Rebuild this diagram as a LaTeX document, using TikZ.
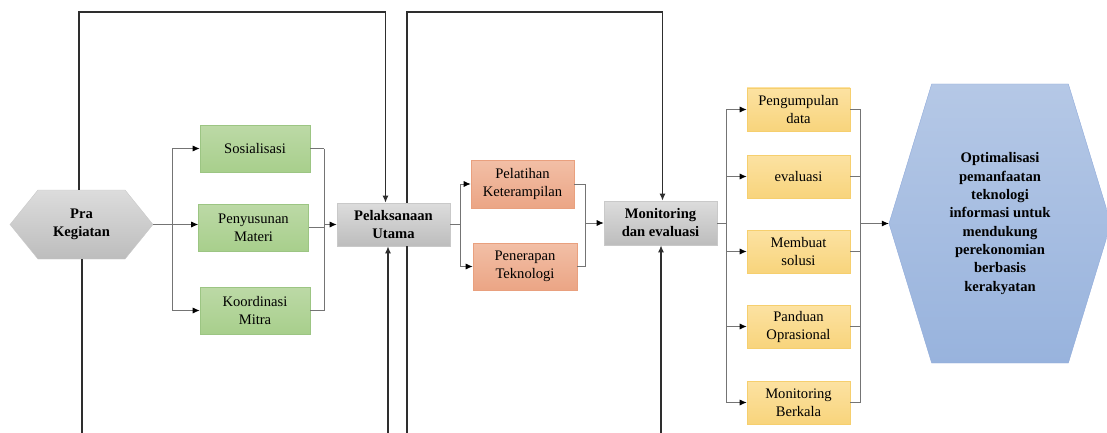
\documentclass[tikz,border=0pt]{standalone}
\usepackage{fontspec}
\setmainfont{Liberation Serif}
\usepackage{tikz}
\usetikzlibrary{calc}
\usetikzlibrary{arrows.meta}
\usetikzlibrary{shapes}
\usetikzlibrary{shapes.symbols}
\usetikzlibrary{positioning}
\tikzset{>={Latex[length=7pt,width=6pt]}}
\definecolor{grayTop}{HTML}{DCDCDC}
\definecolor{grayBot}{HTML}{BDBDBD}
\definecolor{grayLine}{HTML}{C9C9C9}
\definecolor{greenTop}{HTML}{BCD9A6}
\definecolor{greenBot}{HTML}{A8CF8C}
\definecolor{greenLine}{HTML}{9CC583}
\definecolor{orangeTop}{HTML}{F2BFA6}
\definecolor{orangeBot}{HTML}{EBA585}
\definecolor{orangeLine}{HTML}{E9A07E}
\definecolor{yellowTop}{HTML}{FCE2A2}
\definecolor{yellowBot}{HTML}{F8D47C}
\definecolor{yellowLine}{HTML}{F6CF6E}
\definecolor{blueTop}{HTML}{B5C8E6}
\definecolor{blueBot}{HTML}{98B3DD}
\definecolor{blueLine}{HTML}{8FAADA}
\definecolor{linkGray}{HTML}{747474}
\definecolor{frameGray}{HTML}{2E2E2E}
\tikzset{kotak/.style = {rectangle, draw, line width=0.6pt, align=center, inner sep=0pt,
  font=\fontsize{14.6}{18}\selectfont}}
\tikzset{graybox/.style = {kotak, top color=grayTop, bottom color=grayBot, draw=grayLine,
  font=\fontsize{14.6}{18}\selectfont\bfseries}}
\tikzset{greenbox/.style = {kotak, top color=greenTop, bottom color=greenBot, draw=greenLine}}
\tikzset{orangebox/.style = {kotak, top color=orangeTop, bottom color=orangeBot, draw=orangeLine}}
\tikzset{yellowbox/.style = {kotak, top color=yellowTop, bottom color=yellowBot, draw=yellowLine,
  minimum width=103pt, minimum height=43pt}}
\tikzset{hexa/.style = {signal, signal to=west and east, align=center, inner sep=0pt,
  font=\fontsize{14.6}{18.3}\selectfont\bfseries}}
\tikzset{link/.style = {draw=linkGray, line width=0.8pt}}
\tikzset{linkarrow/.style = {link, -{Latex[length=7pt,width=6pt,color=black]}}}
\tikzset{frame/.style = {draw=frameGray, line width=1.3pt}}

\begin{document}
\begin{tikzpicture}[x=1pt, y=-1pt]
\useasboundingbox (0,0) rectangle (1107,433);

% loose ends of the long lines
\coordinate (fPra) at (82,433);
\coordinate (fPel) at (388,433);
\coordinate (fMid) at (407,433);
\coordinate (fMon) at (661,433);
\coordinate (topA) at (79,12);
\coordinate (topB) at (407,12);

% nodes
\node [hexa, top color=grayTop, bottom color=grayBot, draw=grayLine,
  minimum width=143pt, minimum height=69pt, signal pointer angle=102] (pra) at (81.5,224.5) {Pra\\Kegiatan};
\node [greenbox, minimum width=110pt, minimum height=47pt] (sos) at (255,148.5) {Sosialisasi};
\node [greenbox, minimum width=110pt, minimum height=47pt] (pen) at (253.5,227.5) {Penyusunan\\Materi};
\node [greenbox, minimum width=110pt, minimum height=47pt] (koo) at (255,310.5) {Koordinasi\\Mitra};
\node [graybox, minimum width=113pt, minimum height=43pt] (pel) at (393.5,224.5) {Pelaksanaan\\Utama};
\node [orangebox, minimum width=103pt, minimum height=48pt] (lat) at (522.5,184) {Pelatihan\\Keterampilan};
\node [orangebox, minimum width=104pt, minimum height=47pt] (ter) at (525,266.5) {Penerapan\\Teknologi};
\node [graybox, minimum width=113pt, minimum height=44pt] (mon) at (660.5,223) {Monitoring\\dan evaluasi};
\node [yellowbox] (ya) at (798.5,109.5) {Pengumpulan\\data};
\node [yellowbox] (yb) at (798.5,176.5) {evaluasi};
\node [yellowbox] (yc) at (798.5,251.5) {Membuat\\solusi};
\node [yellowbox] (yd) at (798.5,326.5) {Panduan\\Oprasional};
\node [yellowbox] (ye) at (798.5,402.5) {Monitoring\\Berkala};
\node [hexa, top color=blueTop, bottom color=blueBot, draw=blueLine,
  minimum width=222pt, minimum height=279pt, signal pointer angle=146] (opt) at (1000,223.5)
  {Optimalisasi\\pemanfaatan\\teknologi\\informasi untuk\\mendukung\\perekonomian\\berbasis\\kerakyatan};

% fan out / fan in points
\coordinate (fa) at (172,0);
\coordinate (ma) at (324,0);
\coordinate (fb) at (460,0);
\coordinate (mb) at (585,0);
\coordinate (fc) at (726,0);
\coordinate (mc) at (860,0);

% long frame lines
\draw [frame, ->] (pra.north -| topA) -- (topA) -| ([xshift=-8pt]pel.north);
\draw [frame] (pra.south -| fPra) -- (fPra);
\draw [frame, ->] (fPel) -- (pel.south -| fPel);
\draw [frame] (pel.south -| fMid) -- (fMid);
\draw [frame, ->] (pel.north -| topB) -- (topB) -| ([xshift=2pt]mon.north);
\draw [frame, ->] (fMon) -- (mon.south -| fMon);

% pra kegiatan to green boxes
\draw [link] (pra.east) -- (pra.east -| fa);
\draw [link] (fa |- sos) -- (fa |- koo);
\draw [linkarrow] (fa |- sos) -- (sos.west);
\draw [linkarrow] (pra.east -| fa) -- (pra.east -| pen.west);
\draw [linkarrow] (fa |- koo) -- (koo.west);
\draw [link] (sos.east) -- (sos.east -| ma);
\draw [link] (pen.east) -- (pen.east -| ma);
\draw [link] (koo.east) -- (koo.east -| ma);
\draw [link] (ma |- sos) -- (ma |- koo);
\draw [linkarrow] (ma |- pel) -- (pel.west);

% pelaksanaan to orange boxes
\draw [link] (pel.east) -- (pel.east -| fb);
\draw [link] (fb |- lat) -- (fb |- ter);
\draw [linkarrow] (fb |- lat) -- (lat.west);
\draw [linkarrow] (fb |- ter) -- (ter.west);
\draw [link] (lat.east) -- (lat.east -| mb);
\draw [link] (ter.east) -- (ter.east -| mb);
\draw [link] (mb |- lat) -- (mb |- ter);
\draw [linkarrow] (mb |- mon) -- (mon.west);

% monitoring to yellow boxes
\draw [link] (mon.east) -- (mon.east -| fc);
\draw [link] (fc |- ya) -- (fc |- ye);
\foreach \y in {ya, yb, yc, yd, ye} {
  \draw [linkarrow] (fc |- \y) -- (\y.west);
  \draw [link] (\y.east) -- (\y.east -| mc);
}
\draw [link] (mc |- ya) -- (mc |- ye);
\draw [linkarrow] (mc |- opt) -- (opt.west);
\end{tikzpicture}
\end{document}
